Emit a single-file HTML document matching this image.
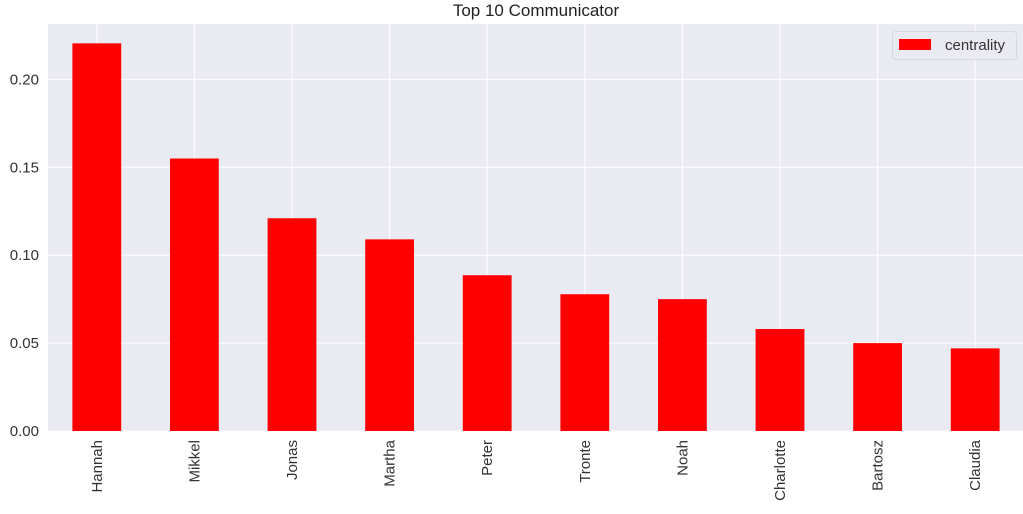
<!DOCTYPE html>
<html><head><meta charset="utf-8"><style>
body{margin:0;background:#fff;width:1023px;height:509px;overflow:hidden}
svg{font-family:"Liberation Sans",sans-serif}
</style></head><body>
<svg id="chart" width="1023" height="509" viewBox="0 0 1023 509"></svg>
<script>
const categories=["Hannah","Mikkel","Jonas","Martha","Peter","Tronte","Noah","Charlotte","Bartosz","Claudia"];
const values=[0.2205,0.155,0.121,0.109,0.0886,0.0778,0.075,0.058,0.050,0.047];
const yTicks=[0,0.05,0.10,0.15,0.20];
const yTickLabels=["0.00","0.05","0.10","0.15","0.20"];
const L=48,R=1024,T=24,B=431;
const ymax=0.2315;
const y=v=>B-(v/ymax)*(B-T);
const step=(R-L)/categories.length;
const x=i=>L+step*(i+0.5);
const NS="http://www.w3.org/2000/svg";
const svg=document.getElementById('chart');
function mk(t,a,p){const e=document.createElementNS(NS,t);for(const k in a)e.setAttribute(k,a[k]);(p||svg).appendChild(e);return e;}
const bg=mk('rect',{x:L,y:T,width:R-L,height:B-T,fill:'#eaeaf2'});


yTicks.forEach((v,i)=>{
  const g=mk('line',{x1:L,x2:R,y1:y(v),y2:y(v),stroke:'#fff','stroke-width':1});
  
  
  const t=mk('text',{x:L-9,y:y(v)+5,'text-anchor':'end','font-size':15,fill:'#333'});
  t.textContent=yTickLabels[i];
  
  
});
categories.forEach((c,i)=>{
  const g=mk('line',{x1:x(i),x2:x(i),y1:T,y2:B,stroke:'#fff','stroke-width':1});
  
  
});
categories.forEach((c,i)=>{
  const bw=step*0.5;
  const b=mk('rect',{x:x(i)-bw/2,y:y(values[i]),width:bw,height:B-y(values[i]),fill:'#ff0000'});
  
  
  const t=mk('text',{x:0,y:0,'text-anchor':'end','font-size':15,fill:'#333',transform:`translate(${x(i)+5},${B+9}) rotate(-90)`});
  t.textContent=c;
  
  
});
const title=mk('text',{x:(L+R)/2,y:16,'text-anchor':'middle','font-size':17,fill:'#222'});
title.textContent='Top 10 Communicator';


const lg=mk('g',{});


mk('rect',{x:892.5,y:31.5,width:124,height:28,rx:3,fill:'#eaeaf2',stroke:'#d8d8e0'},lg);
mk('rect',{x:899,y:39,width:32,height:11,fill:'#ff0000'},lg);
const lt=mk('text',{x:945,y:50,'font-size':15,fill:'#333'},lg);
lt.textContent='centrality';


</script>
</body></html>
